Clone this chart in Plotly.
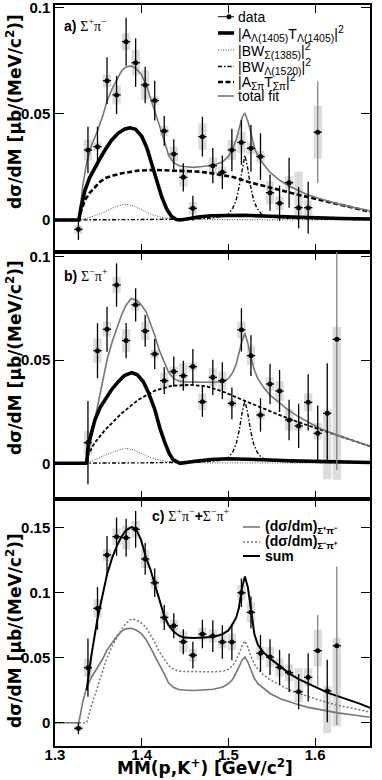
import plotly.graph_objects as go
from plotly.subplots import make_subplots

# ---------------- data ----------------
X_RANGE = [1.3, 1.6633]

# panel a) Sigma+ pi-
A_X = [1.327, 1.338, 1.349, 1.360, 1.371, 1.382, 1.393, 1.404, 1.415, 1.426, 1.437, 1.448, 1.459,
       1.470, 1.482, 1.493, 1.504, 1.515, 1.526, 1.537, 1.548, 1.559, 1.570, 1.581, 1.592, 1.603]
A_Y = [-0.0044, 0.033, 0.0346, 0.0657, 0.059, 0.0841, 0.0742, 0.0637, 0.0563, 0.042, 0.0311, 0.0201, 0.0055,
       0.0393, 0.0256, 0.0225, 0.033, 0.0366, 0.0338, 0.0299, 0.0129, 0.0079, 0.0176, 0.0058, 0.0058, 0.0414]
A_STAT = [0.005, 0.011, 0.0094, 0.011, 0.009, 0.0113, 0.0114, 0.0086, 0.0094, 0.007, 0.007, 0.0067, 0.0059,
          0.0094, 0.0083, 0.0079, 0.010, 0.0106, 0.011, 0.011, 0.0086, 0.0083, 0.0118, 0.0098, 0.0122, 0.024]
A_SYS_UP = [0.002, 0.005, 0.002, 0.003, 0.0045, 0.004, 0.006, 0.007, 0.002, 0.0024, 0.0035, 0.0043, 0.003,
            0.0063, 0.0039, 0.0027, 0.0047, 0.005, 0.0027, 0.0027, 0.0055, 0.0031, 0.003, 0.017, 0.0035, 0.0125]
A_SYS_DN = [0.002, 0.005, 0.002, 0.003, 0.0045, 0.004, 0.006, 0.007, 0.002, 0.0024, 0.0035, 0.0043, 0.003,
            0.0063, 0.0039, 0.0027, 0.0047, 0.005, 0.0027, 0.0027, 0.0055, 0.0031, 0.003, 0.0034, 0.0035, 0.0125]
A_GRAY = [25]

# panel b) Sigma- pi+
B_X = [1.338, 1.349, 1.360, 1.371, 1.382, 1.393, 1.404, 1.415, 1.426, 1.437, 1.448, 1.459, 1.470, 1.482,
       1.493, 1.504, 1.515, 1.526, 1.537, 1.548, 1.559, 1.570, 1.581, 1.592, 1.603, 1.614, 1.625]
B_Y = [0.010, 0.0545, 0.0649, 0.0863, 0.0594, 0.0767, 0.0641, 0.0529, 0.040, 0.0444, 0.0424, 0.0468, 0.0298,
       0.0416, 0.040, 0.029, 0.0646, 0.0521, 0.0234, 0.0384, 0.035, 0.021, 0.0181, 0.0295, 0.0145, 0.0242, 0.060]
B_STAT = [0.0202, 0.0133, 0.0109, 0.0105, 0.0085, 0.008, 0.0077, 0.0073, 0.0065, 0.0073, 0.0073, 0.0085, 0.0073,
          0.0085, 0.0089, 0.0077, 0.0105, 0.0099, 0.0081, 0.0098, 0.0102, 0.0098, 0.0107, 0.0136, 0.0135, 0.0242, 0.0632]
B_SYS_UP = [0.0056, 0.006, 0.0036, 0.004, 0.0056, 0.0028, 0.0044, 0.002, 0.004, 0.0024, 0.006, 0.002, 0.004,
            0.0044, 0.0044, 0.002, 0.004, 0.0044, 0.002, 0.0032, 0.0048, 0.0052, 0.0024, 0.0044, 0.005, 0.002, 0.006]
B_SYS_DN = [0.0056, 0.006, 0.0036, 0.004, 0.0056, 0.0028, 0.0044, 0.002, 0.004, 0.0024, 0.006, 0.002, 0.004,
            0.0044, 0.0044, 0.002, 0.004, 0.0044, 0.002, 0.0032, 0.0048, 0.0052, 0.0024, 0.0044, 0.003, 0.032, 0.068]
B_GRAY = [26]

# panel c) sum
C_X = [1.327, 1.338, 1.349, 1.360, 1.371, 1.382, 1.393, 1.404, 1.415, 1.426, 1.437, 1.448, 1.459, 1.470,
       1.482, 1.493, 1.504, 1.515, 1.526, 1.537, 1.548, 1.559, 1.570, 1.581, 1.592, 1.603, 1.614, 1.625]
C_Y = [-0.0043, 0.0423, 0.088, 0.129, 0.1431, 0.1423, 0.1488, 0.126, 0.1077, 0.081, 0.0746, 0.0623, 0.052, 0.0682,
       0.0667, 0.0621, 0.0621, 0.100, 0.0849, 0.0534, 0.0505, 0.0426, 0.0385, 0.0239, 0.0349, 0.0554, 0.0244, 0.0592]
C_STAT = [0.0045, 0.0224, 0.0164, 0.0147, 0.0147, 0.0147, 0.0141, 0.0122, 0.011, 0.0096, 0.0096, 0.0096, 0.0103, 0.011,
          0.0122, 0.0128, 0.0141, 0.011, 0.0122, 0.0141, 0.0137, 0.0135, 0.0148, 0.0135, 0.0186, 0.0275, 0.024, 0.061]
C_SYS_UP = [0.002, 0.007, 0.007, 0.0045, 0.0064, 0.009, 0.0064, 0.007, 0.0045, 0.0045, 0.0045, 0.008, 0.005, 0.005,
            0.005, 0.005, 0.0064, 0.0058, 0.0077, 0.005, 0.0077, 0.007, 0.0064, 0.018, 0.007, 0.016, 0.004, 0.006]
C_SYS_DN = [0.002, 0.007, 0.007, 0.0045, 0.0064, 0.009, 0.0064, 0.007, 0.0045, 0.0045, 0.0045, 0.008, 0.005, 0.005,
            0.005, 0.005, 0.0064, 0.0058, 0.0077, 0.005, 0.0077, 0.007, 0.0064, 0.008, 0.007, 0.012, 0.0326, 0.062]
C_GRAY = [25, 27]

# fit curves
FIT_X = [1.300, 1.3275, 1.332, 1.3365, 1.342, 1.349, 1.355, 1.360, 1.366, 1.372, 1.377, 1.382, 1.388, 1.393,
         1.399, 1.405, 1.410, 1.415, 1.420, 1.426, 1.431, 1.437, 1.443, 1.449, 1.460, 1.470, 1.482, 1.493,
         1.500, 1.505, 1.509, 1.512, 1.5155, 1.519, 1.5225, 1.526, 1.530, 1.534, 1.540, 1.548, 1.560, 1.570,
         1.581, 1.592, 1.604, 1.615, 1.626, 1.640, 1.652, 1.6635]
A_TOTAL = [0, 0, 0.016, 0.027, 0.035, 0.042, 0.049, 0.056, 0.062, 0.067, 0.0705, 0.0722, 0.0727, 0.0715,
           0.069, 0.064, 0.058, 0.052, 0.045, 0.0375, 0.0305, 0.027, 0.0256, 0.0252, 0.0248, 0.0252, 0.0258, 0.0273,
           0.030, 0.0335, 0.038, 0.0425, 0.048, 0.0505, 0.0465, 0.041, 0.034, 0.030, 0.0265, 0.0225, 0.0185, 0.016,
           0.0138, 0.0118, 0.0102, 0.0088, 0.0076, 0.0063, 0.0052, 0.0042]
B_TOTAL = [0, 0, 0, 0, 0.013, 0.0274, 0.039, 0.050, 0.059, 0.066, 0.072, 0.0765, 0.0798, 0.0792,
           0.077, 0.0734, 0.068, 0.062, 0.055, 0.049, 0.044, 0.041, 0.0398, 0.0394, 0.0392, 0.0392, 0.0392, 0.0395,
           0.041, 0.044, 0.048, 0.053, 0.059, 0.0629, 0.058, 0.051, 0.045, 0.041, 0.037, 0.033, 0.029, 0.0255,
           0.0225, 0.020, 0.0172, 0.0153, 0.0135, 0.0115, 0.0098, 0.0082]
SUM_X = FIT_X[3:]
C_SUM = [0.025, 0.052, 0.080, 0.100, 0.114, 0.127, 0.137, 0.1435, 0.148, 0.1505, 0.1495,
         0.141, 0.127, 0.118, 0.107, 0.095, 0.082, 0.075, 0.070, 0.067, 0.0655, 0.0652, 0.0654, 0.066, 0.068,
         0.071, 0.076, 0.081, 0.088, 0.103, 0.1125, 0.104, 0.087, 0.068, 0.060, 0.0545, 0.0495, 0.043, 0.038,
         0.0335, 0.030, 0.026, 0.023, 0.0205, 0.0175, 0.0145, 0.0115]

A_L1405_X = [1.300, 1.3275, 1.330, 1.3346, 1.340, 1.3461, 1.352, 1.3577, 1.365, 1.373, 1.380, 1.3865, 1.393,
             1.400, 1.406, 1.4115, 1.417, 1.423, 1.429, 1.4346, 1.440, 1.4442, 1.452, 1.465, 1.480, 1.500,
             1.520, 1.540, 1.570, 1.600, 1.630, 1.6635]
A_L1405_Y = [0, 0, 0.006, 0.014, 0.020, 0.025, 0.029, 0.033, 0.0375, 0.041, 0.0428, 0.0435, 0.0428,
             0.0395, 0.034, 0.0265, 0.0185, 0.011, 0.005, 0.0016, 0.0002, 0, 0.0005, 0.0014, 0.002, 0.0023,
             0.0022, 0.0019, 0.0014, 0.001, 0.0007, 0.0005]
A_S1385_X = [1.300, 1.3275, 1.340, 1.350, 1.360, 1.370, 1.3807, 1.390, 1.400, 1.410, 1.420, 1.430, 1.445,
             1.470, 1.550, 1.6635]
A_S1385_Y = [0, 0, 0.0012, 0.0026, 0.0044, 0.0063, 0.0075, 0.0068, 0.0048, 0.0028, 0.0015, 0.0008, 0.0004,
             0.0002, 0.0001, 0.0001]
A_L1520_X = [1.300, 1.3275, 1.400, 1.460, 1.480, 1.493, 1.500, 1.505, 1.509, 1.5125, 1.516, 1.519, 1.522,
             1.5255, 1.529, 1.533, 1.538, 1.545, 1.560, 1.600, 1.6635]
A_L1520_Y = [0, 0, 0.0002, 0.0005, 0.0009, 0.0016, 0.0028, 0.0055, 0.0095, 0.016, 0.025, 0.0305, 0.025,
             0.016, 0.0095, 0.0055, 0.0028, 0.0016, 0.0009, 0.0004, 0.0002]
A_SP_X = [1.300, 1.3275, 1.330, 1.3346, 1.340, 1.3461, 1.352, 1.3577, 1.367, 1.3769, 1.396, 1.4153, 1.446,
          1.467, 1.4807, 1.505, 1.525, 1.548, 1.5826, 1.600, 1.620, 1.640, 1.6635]
A_SP_Y = [0, 0, 0.004, 0.0094, 0.0128, 0.0157, 0.018, 0.0197, 0.021, 0.022, 0.0233, 0.0236, 0.0233,
          0.0228, 0.022, 0.0203, 0.0177, 0.0152, 0.0117, 0.0100, 0.0080, 0.0060, 0.0039]

B_L1405_X = [1.300, 1.3365, 1.3384, 1.3461, 1.352, 1.3577, 1.365, 1.373, 1.380, 1.3884, 1.395, 1.4019, 1.408,
             1.4153, 1.421, 1.4269, 1.432, 1.4365, 1.4442, 1.4615, 1.480, 1.500, 1.520, 1.540, 1.570, 1.600,
             1.630, 1.6635]
B_L1405_Y = [0, 0, 0.009, 0.021, 0.027, 0.0307, 0.0355, 0.0395, 0.0425, 0.0439, 0.0428, 0.0395, 0.034,
             0.0258, 0.017, 0.0097, 0.0045, 0.0016, 0, 0.001, 0.0018, 0.0022, 0.0021, 0.0017, 0.0012, 0.0009,
             0.0006, 0.0004]
B_S1385_X = [1.300, 1.3365, 1.345, 1.355, 1.365, 1.3807, 1.390, 1.400, 1.410, 1.420, 1.430, 1.445, 1.470, 1.6635]
B_S1385_Y = [0, 0, 0.0015, 0.0033, 0.0052, 0.0073, 0.0066, 0.0047, 0.0027, 0.0015, 0.0008, 0.0004, 0.0002, 0.0001]
B_L1520_X = [1.300, 1.3365, 1.400, 1.460, 1.480, 1.493, 1.500, 1.505, 1.509, 1.5125, 1.516, 1.519, 1.522,
             1.5255, 1.529, 1.533, 1.538, 1.545, 1.560, 1.600, 1.6635]
B_L1520_Y = [0, 0, 0.0002, 0.0005, 0.0009, 0.0016, 0.0028, 0.0055, 0.0095, 0.016, 0.025, 0.0303, 0.025,
             0.016, 0.0095, 0.0055, 0.0028, 0.0016, 0.0009, 0.0004, 0.0002]
B_SP_X = [1.300, 1.3365, 1.3384, 1.345, 1.3577, 1.3769, 1.396, 1.4153, 1.4346, 1.455, 1.475, 1.495, 1.5172,
          1.540, 1.5634, 1.580, 1.600, 1.620, 1.640, 1.6635]
B_SP_Y = [0, 0, 0.004, 0.0095, 0.0161, 0.0242, 0.0307, 0.0352, 0.0375, 0.0380, 0.0372, 0.0345, 0.0305,
          0.0265, 0.0226, 0.020, 0.0172, 0.0143, 0.0115, 0.0082]

Y_RANGES = {1: [-0.0151, 0.1014], 2: [-0.0173, 0.1023], 3: [-0.0179, 0.1721]}


def sub(s):
    return "<sub><span style='font-size:10.5px'>%s</span></sub>" % s


def sup(s):
    return "<sup><span style='font-size:10.5px'>%s</span></sup>" % s


LEG_A = ["data",
         "|A" + sub("Λ(1405)") + "T" + sub("Λ(1405)") + "|" + sup("2"),
         "|BW" + sub("Σ(1385)") + "|" + sup("2"),
         "|BW" + sub("Λ(1520)") + "|" + sup("2"),
         "|A" + sub("Σπ") + "T" + sub("Σπ") + "|" + sup("2"),
         "total fit"]
LEG_C = ["(dσ/dm)<sub>Σ⁺π⁻</sub>", "(dσ/dm)<sub>Σ⁻π⁺</sub>", "sum"]
Y_TITLE = "dσ/dM [μb/(MeV/c<sup>2</sup>)]"
X_TITLE = "MM(p,K<sup>+</sup>) [GeV/c<sup>2</sup>]"

# ---------------- styles ----------------
W, H = 382, 780
ML, MR, MT, MB = 55, 12, 5, 34
SANS = "Liberation Sans"
GRAY = "rgb(118,118,118)"
ERR_GRAY = "rgb(130,130,130)"
BOX_COLOR = "rgb(220,220,220)"
XERR = 0.0048
BOX_W = 0.0095

S_L1405 = dict(color="black", width=3.6)
S_S1385 = dict(color="rgb(80,80,80)", width=1, dash="1px,1.5px")
S_L1520 = dict(color="black", width=1.4, dash="4px,2px,1.5px,2px")
S_SP_A = dict(color="black", width=2.6, dash="5px,2.5px")
S_SP_B = dict(color="black", width=1.8, dash="3.5px,2px")
S_TOT = dict(color=GRAY, width=1.6)
S_C_A = dict(color=GRAY, width=1.6)
S_C_B = dict(color=GRAY, width=1.5, dash="2px,2px")
S_SUM = dict(color="black", width=2)


def px2x(px):
    return (px - ML) / (W - ML - MR)


def py2y(py):
    return (H - MB - py) / (H - MT - MB)


fig = make_subplots(rows=3, cols=1, shared_xaxes=True, vertical_spacing=0)


def add_boxes(row, xs, ys, up, dn):
    fig.add_trace(go.Bar(x=xs, y=[u + d for u, d in zip(up, dn)], base=[y - d for y, d in zip(ys, dn)],
                         width=BOX_W, marker=dict(color=BOX_COLOR, line=dict(width=0)),
                         showlegend=False, hoverinfo="skip"), row=row, col=1)


def add_line(row, xs, ys, style):
    fig.add_trace(go.Scatter(x=xs, y=ys, mode="lines", line=style, showlegend=False, hoverinfo="skip"),
                  row=row, col=1)


def add_points(row, xs, ys, stat, gray):
    for is_gray, col in ((False, "black"), (True, ERR_GRAY)):
        idx = [i for i in range(len(xs)) if (i in gray) == is_gray]
        if not idx:
            continue
        fig.add_trace(go.Scatter(
            x=[xs[i] for i in idx], y=[ys[i] for i in idx], mode="markers",
            marker=dict(color="black", size=5),
            error_y=dict(type="data", array=[stat[i] for i in idx], color=col, thickness=1.3, width=0),
            error_x=dict(type="data", array=[XERR] * len(idx), color="black", thickness=1.3, width=0),
            showlegend=False, hoverinfo="skip"), row=row, col=1)


# panel a
add_boxes(1, A_X, A_Y, A_SYS_UP, A_SYS_DN)
add_line(1, A_S1385_X, A_S1385_Y, S_S1385)
add_line(1, A_L1520_X, A_L1520_Y, S_L1520)
add_line(1, A_SP_X, A_SP_Y, S_SP_A)
add_line(1, FIT_X, A_TOTAL, S_TOT)
add_line(1, A_L1405_X, A_L1405_Y, S_L1405)
add_points(1, A_X, A_Y, A_STAT, A_GRAY)

# panel b
add_boxes(2, B_X, B_Y, B_SYS_UP, B_SYS_DN)
add_line(2, B_S1385_X, B_S1385_Y, S_S1385)
add_line(2, B_L1520_X, B_L1520_Y, S_L1520)
add_line(2, B_SP_X, B_SP_Y, S_SP_B)
add_line(2, FIT_X, B_TOTAL, S_TOT)
add_line(2, B_L1405_X, B_L1405_Y, S_L1405)
add_points(2, B_X, B_Y, B_STAT, B_GRAY)

# panel c
add_boxes(3, C_X, C_Y, C_SYS_UP, C_SYS_DN)
add_line(3, FIT_X, A_TOTAL, S_C_A)
add_line(3, FIT_X, B_TOTAL, S_C_B)
add_line(3, SUM_X, C_SUM, S_SUM)
add_points(3, C_X, C_Y, C_STAT, C_GRAY)

tickfont = dict(family=SANS, size=15, color="black", weight="bold")
for r in (1, 2, 3):
    fig.update_xaxes(range=X_RANGE, tick0=1.3, dtick=0.1, ticks="inside", ticklen=8, tickwidth=1.2,
                     tickcolor="black", showline=True, linecolor="black", linewidth=1.5, mirror="ticks",
                     showgrid=False, zeroline=False, tickfont=tickfont, automargin=False,
                     ticklabeloverflow="allow", ticklabelstandoff=-6, row=r, col=1)
    fig.update_yaxes(range=Y_RANGES[r], tick0=0, dtick=0.05, ticks="inside", ticklen=9, tickwidth=1.2,
                     tickcolor="black", showline=True, linecolor="black", linewidth=1.5, mirror="ticks",
                     showgrid=False, zeroline=False, tickfont=tickfont, automargin=False,
                     ticklabeloverflow="allow", row=r, col=1)

ann = []
shapes = []
# y titles
for cy in (112, 358, 631):
    ann.append(dict(text=Y_TITLE, xref="paper", yref="paper", x=px2x(14), y=py2y(cy), textangle=-90,
                    showarrow=False, xanchor="center", yanchor="middle",
                    font=dict(family="DejaVu Sans", size=17, color="black", weight="bold")))
ann.append(dict(text=X_TITLE, xref="paper", yref="paper", x=px2x(205), y=py2y(767), showarrow=False,
                xanchor="center", yanchor="middle",
                font=dict(family="DejaVu Sans", size=17, color="black", weight="bold")))

SERIF = "font-family:'Liberation Serif'"
ann.append(dict(text="<b>a)</b> <span style=\"%s\">Σ<sup>+</sup>π<sup>−</sup></span>" % SERIF,
                xref="paper", yref="paper", x=px2x(62), y=py2y(25), xanchor="left", yanchor="middle",
                showarrow=False, font=dict(family=SANS, size=14, color="black")))
ann.append(dict(text="<b>b)</b> <span style=\"%s\">Σ<sup>−</sup>π<sup>+</sup></span>" % SERIF,
                xref="paper", yref="paper", x=px2x(62), y=py2y(275), xanchor="left", yanchor="middle",
                showarrow=False, font=dict(family=SANS, size=14, color="black")))
ann.append(dict(text="<b>c)</b> <span style=\"%s\">Σ<sup>+</sup>π<sup>−</sup></span><b>+</b>"
                     "<span style=\"%s\">Σ<sup>−</sup>π<sup>+</sup></span>" % (SERIF, SERIF),
                xref="paper", yref="paper", x=px2x(150), y=py2y(515), xanchor="left", yanchor="middle",
                showarrow=False, font=dict(family=SANS, size=14, color="black")))

# legend a
LEG_A_STYLES = [dict(color="black", width=1), S_L1405, S_S1385, S_L1520, S_SP_A, S_TOT]
rows_a = [16.7, 33, 50, 66.5, 82, 96]
for label, st, ry in zip(LEG_A, LEG_A_STYLES, rows_a):
    shapes.append(dict(type="line", xref="paper", yref="paper", x0=px2x(218), x1=px2x(234),
                       y0=py2y(ry), y1=py2y(ry), line=st))
    ann.append(dict(text=label, xref="paper", yref="paper", x=px2x(236), y=py2y(ry), xanchor="left",
                    yanchor="middle", showarrow=False, font=dict(family=SANS, size=14, color="black")))
shapes.append(dict(type="circle", xref="paper", yref="paper", x0=px2x(226.5), x1=px2x(231.5),
                   y0=py2y(rows_a[0] - 2.5), y1=py2y(rows_a[0] + 2.5), fillcolor="black",
                   line=dict(color="black", width=0)))

# legend c
LEG_C_STYLES = [S_C_A, S_C_B, S_SUM]
rows_c = [527, 542, 556]
for label, st, ry in zip(LEG_C, LEG_C_STYLES, rows_c):
    shapes.append(dict(type="line", xref="paper", yref="paper", x0=px2x(243), x1=px2x(260),
                       y0=py2y(ry), y1=py2y(ry), line=st))
    ann.append(dict(text=label, xref="paper", yref="paper", x=px2x(263), y=py2y(ry), xanchor="left",
                    yanchor="middle", showarrow=False,
                    font=dict(family=SANS, size=14, color="black", weight="bold")))

fig.update_layout(width=W, height=H, margin=dict(l=ML, r=MR, t=MT, b=MB), plot_bgcolor="white",
                  paper_bgcolor="white", barmode="overlay", showlegend=False, annotations=ann, shapes=shapes,
                  font=dict(family=SANS, color="black"))

fig.write_html("out.html", config={"displayModeBar": False},
               post_script="document.body.style.margin='0px';document.body.style.padding='0px';")
